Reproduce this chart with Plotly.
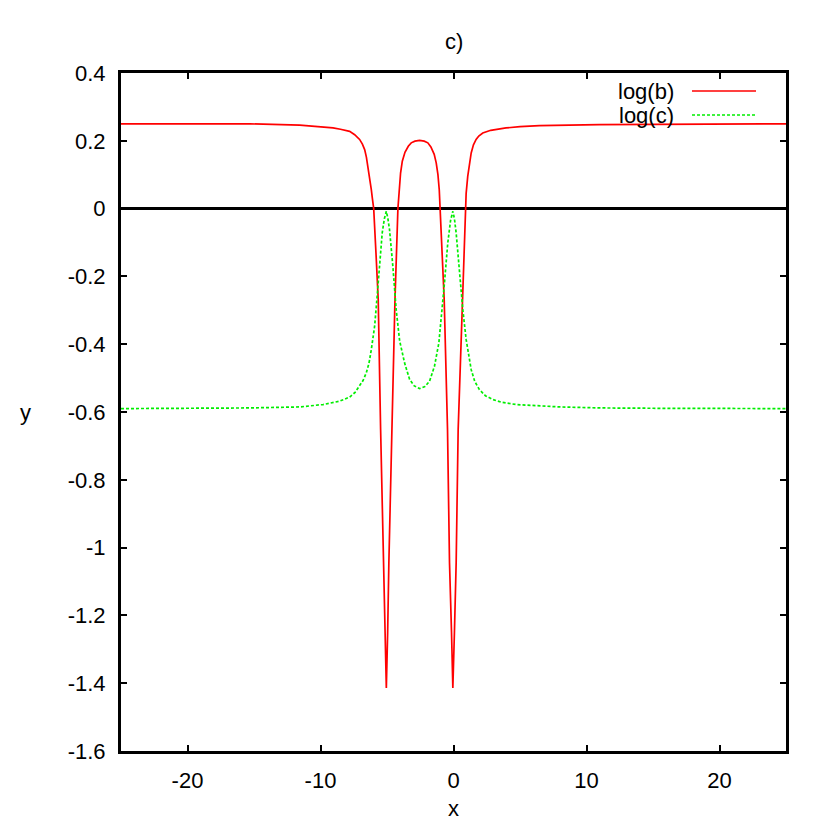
import plotly.graph_objects as go

# log(b) curve, values
b_x = [-25, -20, -15.3, -11.56, -10.5, -9.06, -8.5, -7.81, -7.43, -7.2, -7.06, -6.85, -6.68,
       -6.55, -6.43, -6.3, -6.18, -6.1, -6.0, -5.83, -5.66, -5.48, -5.26, -5.15, -5.05,
       -4.95, -4.86, -4.63, -4.40, -4.18, -4.08, -3.98, -3.85, -3.65, -3.4, -3.18, -2.9,
       -2.55, -2.2, -1.93, -1.7, -1.45, -1.3, -1.17, -1.07, -1.0, -0.85, -0.70, -0.45,
       -0.30, -0.15, -0.05, 0.07, 0.2, 0.35, 0.65, 0.86, 0.95, 1.07, 1.2, 1.33, 1.5,
       1.70, 1.9, 2.2, 2.8, 3.95, 5.0, 6.46, 10.96, 15, 20, 25]
b_y = [0.250, 0.250, 0.250, 0.246, 0.243, 0.238, 0.234, 0.228, 0.218, 0.210, 0.204, 0.190, 0.174,
       0.152, 0.125, 0.095, 0.056, 0.030, 0.0, -0.130, -0.268, -0.652, -1.045, -1.250, -1.414,
       -1.250, -1.045, -0.652, -0.268, 0.0, 0.060, 0.105, 0.140, 0.166, 0.184, 0.194, 0.199,
       0.2015, 0.199, 0.194, 0.182, 0.160, 0.135, 0.100, 0.055, 0.0, -0.130, -0.268, -0.652,
       -1.045, -1.250, -1.414, -1.250, -1.045, -0.652, -0.268, 0.0, 0.045, 0.095, 0.135, 0.164, 0.188,
       0.204, 0.214, 0.223, 0.231, 0.238, 0.242, 0.245, 0.248, 0.249, 0.250, 0.250]

# log(c) curve
c_x = [-25, -20, -15.3, -11.56, -9.81, -8.56, -7.81, -7.4, -7.06, -6.8, -6.56, -6.35,
       -6.18, -5.93, -5.76, -5.56, -5.36, -5.2, -5.05, -4.93, -4.81, -4.56, -4.31, -4.05,
       -3.68, -3.30, -2.95, -2.55, -2.15, -1.80, -1.43, -1.10, -0.85, -0.68, -0.43, -0.22,
       -0.05, 0.07, 0.2, 0.45, 0.70, 0.95, 1.15, 1.33, 1.6, 1.95, 2.4, 2.95, 3.6, 4.7,
       7.96, 11, 15, 20, 25]
c_y = [-0.590, -0.589, -0.588, -0.585, -0.578, -0.568, -0.556, -0.542, -0.524, -0.507, -0.485, -0.455,
       -0.416, -0.347, -0.268, -0.170, -0.072, -0.030, -0.008, -0.030, -0.062, -0.170, -0.298, -0.390,
       -0.455, -0.504, -0.523, -0.531, -0.525, -0.509, -0.465, -0.396, -0.298, -0.219, -0.101, -0.035,
       -0.008, -0.030, -0.072, -0.190, -0.298, -0.386, -0.440, -0.475, -0.510, -0.534, -0.552, -0.563, -0.571, -0.578,
       -0.585, -0.588, -0.589, -0.590, -0.590]

x_ticks = [-20, -10, 0, 10, 20]
x_labels = ["-20", "-10", "0", "10", "20"]
y_ticks = [-1.6, -1.4, -1.2, -1.0, -0.8, -0.6, -0.4, -0.2, 0.0, 0.2, 0.4]
y_labels = ["-1.6", "-1.4", "-1.2", "-1", "-0.8", "-0.6", "-0.4", "-0.2", "0", "0.2", "0.4"]

font = "Liberation Sans, Arial, sans-serif"
fsize = 22

# page body has an 8px margin, so figure is 814 and plot area lands at 121..786 x 73..751
W = 814
ml, mr, mt, mb = 113, 36, 65, 71
pw = W - ml - mr
ph = W - mt - mb

fig = go.Figure()

# zero line (y = 0)
fig.add_trace(go.Scatter(x=[-25, 25], y=[0, 0], mode="lines",
                         line=dict(color="black", width=3), hoverinfo="skip"))
fig.add_trace(go.Scatter(x=b_x, y=b_y, mode="lines", name="log(b)",
                         line=dict(color="#ff0000", width=1.7)))
fig.add_trace(go.Scatter(x=c_x, y=c_y, mode="lines", name="log(c)",
                         line=dict(color="#00ee00", width=1.7, dash="3px,2px")))

# gnuplot-style key: text then sample line (positions in page pixels)
key = [("log(b)", "#ff0000", "solid", 91), ("log(c)", "#00ee00", "3px,2px", 115)]
for label, col, dash, py in key:
    yy = 1 - (py - 73) / ph
    fig.add_annotation(x=(676 - 121) / pw, y=yy, xref="paper", yref="paper",
                       text=label, showarrow=False, xanchor="right", yanchor="middle",
                       font=dict(family=font, size=fsize, color="black"))
    fig.add_shape(type="line", xref="paper", yref="paper",
                  x0=(692 - 121) / pw, x1=(756 - 121) / pw, y0=yy, y1=yy,
                  line=dict(color=col, width=1.7, dash=dash))

fig.add_annotation(x=0.5, y=1, xref="paper", yref="paper", yshift=32,
                   text="c)", showarrow=False, yanchor="middle",
                   font=dict(family=font, size=fsize, color="black"))
fig.add_annotation(x=0.5, y=0, xref="paper", yref="paper", yshift=-57,
                   text="x", showarrow=False, yanchor="middle",
                   font=dict(family=font, size=fsize, color="black"))
fig.add_annotation(x=0, y=0.5, xref="paper", yref="paper", xshift=-96,
                   text="y", showarrow=False, xanchor="center", yanchor="middle",
                   font=dict(family=font, size=fsize, color="black"))

fig.update_xaxes(range=[-25, 25], tickvals=x_ticks, ticktext=x_labels,
                 ticks="inside", ticklen=6, tickwidth=2, tickcolor="black",
                 showgrid=False, zeroline=False, showline=True, linecolor="black",
                 linewidth=3, mirror="ticks", ticklabelstandoff=8,
                 tickfont=dict(family=font, size=fsize, color="black"))
fig.update_yaxes(range=[-1.6, 0.4], tickvals=y_ticks, ticktext=y_labels,
                 ticks="inside", ticklen=6, tickwidth=2, tickcolor="black",
                 showgrid=False, zeroline=False, showline=True, linecolor="black",
                 linewidth=3, mirror="ticks", ticklabelstandoff=8,
                 tickfont=dict(family=font, size=fsize, color="black"))

fig.update_layout(width=W, height=W, showlegend=False,
                  margin=dict(l=ml, r=mr, t=mt, b=mb),
                  plot_bgcolor="white", paper_bgcolor="white",
                  font=dict(family=font, size=fsize, color="black"))

fig.write_html("out.html")
